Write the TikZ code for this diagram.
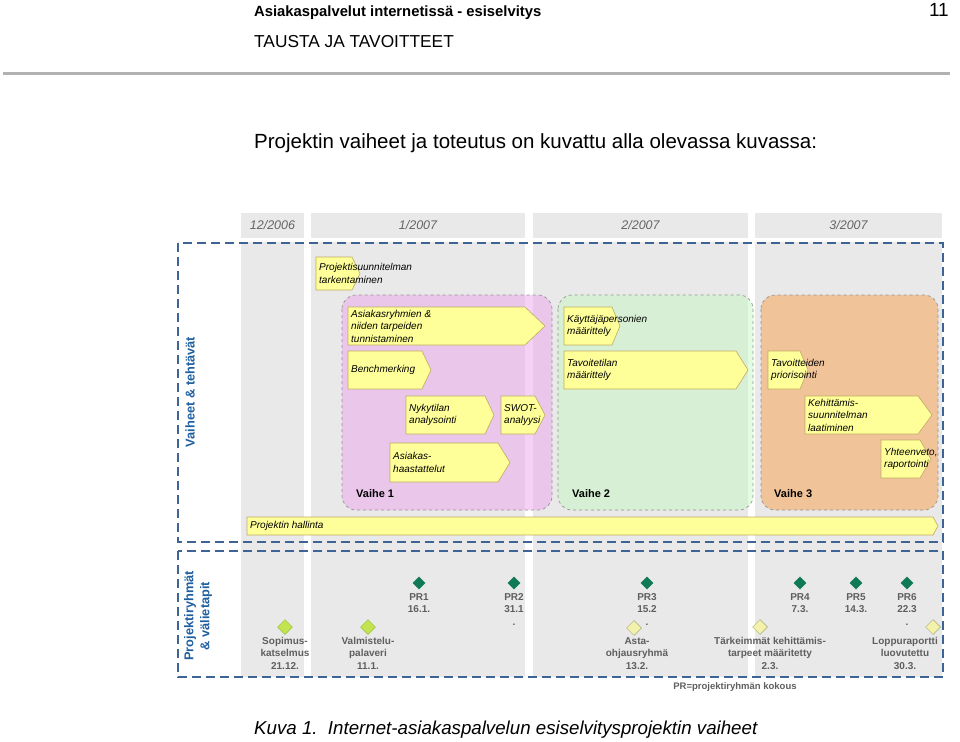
\documentclass[tikz,border=0pt]{standalone}
\usepackage{fontspec}
\setmainfont{Liberation Sans}
\usetikzlibrary{shapes.geometric}
\definecolor{colgray}{RGB}{233,233,233}
\definecolor{dashblue}{RGB}{62,100,150}
\definecolor{labblue}{RGB}{31,95,160}
\definecolor{taskfill}{RGB}{255,255,153}
\definecolor{taskdraw}{RGB}{190,170,100}
\definecolor{pinkph}{RGB}{235,165,235}
\definecolor{greenph}{RGB}{199,247,195}
\definecolor{orangeph}{RGB}{249,159,75}
\definecolor{prgreen}{RGB}{15,122,85}
\definecolor{lgreen}{RGB}{195,228,80}
\definecolor{lgreendraw}{RGB}{150,190,60}
\definecolor{lyellow}{RGB}{242,242,170}
\definecolor{lyellowdraw}{RGB}{170,170,120}
\definecolor{mgray}{RGB}{95,95,95}
\definecolor{hgray}{RGB}{100,100,100}
\newcommand{\taskbox}[8]{%
  \draw[taskshape] (#2,#3) -- (#4,#3) -- (#5,{(#3+#6)/2}) -- (#4,#6) -- (#2,#6) -- cycle;
  \node[tasktext] (#1) at ({#2+3},{(#3+#6)/2}) {#7};}
\begin{document}
\begin{tikzpicture}[x=1pt,y=-1pt,
  taskshape/.style={fill=taskfill, draw=taskdraw, line width=0.6pt},
  tasktext/.style={anchor=west, inner sep=0pt, align=left, font=\fontsize{10}{12.5}\selectfont\itshape},
  phase/.style={draw=gray!85, dashed, line width=0.7pt, rounded corners=14pt, fill opacity=0.5},
  bluebox/.style={draw=dashblue, line width=1.2pt, dash pattern=on 9pt off 5pt},
  colhead/.style={font=\fontsize{12.5}{14}\selectfont\itshape, text=hgray},
  vlabel/.style={rotate=90, align=center, text=labblue, font=\fontsize{12.8}{16}\selectfont\bfseries},
  phlabel/.style={anchor=west, inner sep=0pt, font=\fontsize{11}{13}\selectfont\bfseries},
  prd/.style={diamond, aspect=1, minimum size=13pt, inner sep=0pt, fill=prgreen},
  lgd/.style={diamond, aspect=1, minimum size=15pt, inner sep=0pt, fill=lgreen, draw=lgreendraw, line width=0.5pt},
  lyd/.style={diamond, aspect=1, minimum size=15pt, inner sep=0pt, fill=lyellow, draw=lyellowdraw, line width=0.5pt},
  msl/.style={anchor=north, inner sep=0pt, align=center, text=mgray, font=\fontsize{10}{12.5}\selectfont\bfseries}
]
\useasboundingbox (0,0) rectangle (960,741);

% page header
\node[anchor=base west, inner sep=0pt, font=\fontsize{14.8}{17}\selectfont\bfseries] (hdr) at (254,17) {Asiakaspalvelut internetissä - esiselvitys};
\node[anchor=base east, inner sep=0pt, font=\fontsize{19}{22}\selectfont] (pno) at (949,17) {11};
\node[anchor=base west, inner sep=0pt, font=\fontsize{17.3}{20}\selectfont] (sec) at (254,48) {TAUSTA JA TAVOITTEET};
\draw[line width=3pt, color=gray!60] (3,74) -- (950,74);
\node[anchor=base west, inner sep=0pt, font=\fontsize{20.5}{24}\selectfont] (intro) at (254,148) {Projektin vaiheet ja toteutus on kuvattu alla olevassa kuvassa:};

% month columns
\fill[colgray] (241,213) rectangle (304,238);
\fill[colgray] (311,213) rectangle (525,238);
\fill[colgray] (533,213) rectangle (748,238);
\fill[colgray] (755,213) rectangle (942,238);
\fill[colgray] (241,242) rectangle (304,677);
\fill[colgray] (311,242) rectangle (525,677);
\fill[colgray] (533,242) rectangle (748,677);
\fill[colgray] (755,242) rectangle (942,677);
\node[colhead] (m1) at (272.5,225.5) {12/2006};
\node[colhead] (m2) at (418,225.5) {1/2007};
\node[colhead] (m3) at (640.5,225.5) {2/2007};
\node[colhead] (m4) at (848.5,225.5) {3/2007};

% dashed frames
\draw[bluebox] (178,243) rectangle (943,542);
\draw[bluebox] (178,551) rectangle (943,677);
\node[vlabel] (v1) at (190,392) {Vaiheet \& tehtävät};
\node[vlabel] (v2) at (198,616) {Projektiryhmät\\\& välietapit};

% phases
\filldraw[phase, fill=pinkph] (342,295) rectangle (552,510);
\filldraw[phase, fill=greenph] (558,295) rectangle (753,510);
\filldraw[phase, fill=orangeph] (761,295) rectangle (938,510);
\node[phlabel] (p1) at (356,494) {Vaihe 1};
\node[phlabel] (p2) at (572,494) {Vaihe 2};
\node[phlabel] (p3) at (774,494) {Vaihe 3};

% tasks
\taskbox{ps}{316}{257}{352}{360}{290}{Projektisuunnitelman\\tarkentaminen}{}
\taskbox{ar}{348}{307}{525}{545}{345}{Asiakasryhmien \&\\niiden tarpeiden\\tunnistaminen}{}
\taskbox{bm}{348}{351}{422}{431}{389}{Benchmerking}{}
\taskbox{ny}{406}{396}{485}{494}{434}{Nykytilan\\analysointi}{}
\taskbox{sw}{501}{396}{535}{545}{434}{SWOT-\\analyysi}{}
\taskbox{ah}{390}{443}{498}{510}{482}{Asiakas-\\haastattelut}{}
\taskbox{kp}{564}{307}{612}{620}{345}{Käyttäjäpersonien\\määrittely}{}
\taskbox{tt}{564}{351}{736}{748}{389}{Tavoitetilan\\määrittely}{}
\taskbox{tp}{768}{351}{800}{808}{389}{Tavoitteiden\\priorisointi}{}
\taskbox{ks}{805}{396}{918}{932}{434}{Kehittämis-\\suunnitelman\\laatiminen}{}
\taskbox{yr}{881}{440}{920}{931}{478}{Yhteenveto,\\raportointi}{}
\taskbox{ph}{247}{517}{933}{938}{535}{Projektin hallinta}{}

% project group meetings
\node[prd] (pr1) at (419,583) {};
\node[prd] (pr2) at (514,583) {};
\node[prd] (pr3) at (647,583) {};
\node[prd] (pr4) at (800,583) {};
\node[prd] (pr5) at (856,583) {};
\node[prd] (pr6) at (907,583) {};
\node[msl] (lpr1) at (419,593) {PR1\\16.1.};
\node[msl] (lpr2) at (514,593) {PR2\\31.1\\.};
\node[msl] (lpr3) at (647,593) {PR3\\15.2\\.};
\node[msl] (lpr4) at (800,593) {PR4\\7.3.};
\node[msl] (lpr5) at (856,593) {PR5\\14.3.};
\node[msl] (lpr6) at (907,593) {PR6\\22.3\\.};

% milestones
\node[lgd] (ms1) at (285,627) {};
\node[lgd] (ms2) at (368,627) {};
\node[lyd] (ms3) at (634,628) {};
\node[lyd] (ms4) at (760,627) {};
\node[lyd] (ms5) at (933,627) {};
\node[msl] (lms1) at (285,637) {Sopimus-\\katselmus\\21.12.};
\node[msl] (lms2) at (368,637) {Valmistelu-\\palaveri\\11.1.};
\node[msl] (lms3) at (637,637) {Asta-\\ohjausryhmä\\13.2.};
\node[msl] (lms4) at (770,637) {Tärkeimmät kehittämis-\\tarpeet määritetty\\2.3.};
\node[msl] (lms5) at (905,637) {Loppuraportti\\luovutettu\\30.3.};
\node[msl, font=\fontsize{9.5}{12}\selectfont\bfseries] (legend) at (735,682) {PR=projektiryhmän kokous};

% caption
\node[anchor=base west, inner sep=0pt, font=\fontsize{18.7}{22}\selectfont\itshape] (cap) at (254,734) {Kuva 1.\ \ Internet-asiakaspalvelun esiselvitysprojektin vaiheet};
\end{tikzpicture}
\end{document}
